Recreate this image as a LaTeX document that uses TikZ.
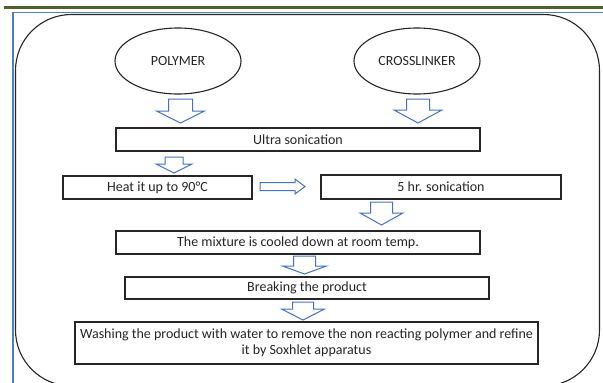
\documentclass[tikz,border=0pt]{standalone}
\usepackage{fontspec}
\setmainfont{Carlito}
\usetikzlibrary{shapes.geometric}
\definecolor{bargreen}{HTML}{4F6228}
\definecolor{frameblue}{HTML}{4F81BD}
\definecolor{arrowblue}{HTML}{4472C4}
\definecolor{txt}{HTML}{262626}
\tikzset{
  stepbox/.style={draw=black!85, line width=1.1pt, rectangle, inner sep=0pt, text=txt, font=\fontsize{14}{16}\selectfont, align=center},
  oval/.style={draw=black!85, line width=1.1pt, ellipse, inner sep=0pt, minimum width=126pt, minimum height=66pt, text=txt, font=\fontsize{14}{16}\selectfont},
  barrow/.style={draw=arrowblue, line width=1pt, fill=white, line join=miter}
}
% block arrow down: cx, top, tip, headbase, shafthalf, headhalf
\newcommand\bdarrow[6]{%
  \draw[barrow] (#1-#5,#2) -- (#1+#5,#2) -- (#1+#5,#4) -- (#1+#6,#4) -- (#1,#3) -- (#1-#6,#4) -- (#1-#5,#4) -- cycle;}
\begin{document}
\begin{tikzpicture}[x=1pt,y=-1pt]
\useasboundingbox (0,0) rectangle (603,383);
\fill[white] (0,0) rectangle (603,383);
% top bars and frame
\fill[bargreen] (4,5.5) rectangle (603,9);
\draw[frameblue, line width=1.3pt] (13,384) -- (13,12.5) -- (603,12.5);
\draw[black!85, line width=1.1pt, rounded corners=56pt] (15.5,14.5) rectangle (599.5,386);
% nodes
\node[oval] (poly) at (178,61) {POLYMER};
\node[oval] (cross) at (417,61) {CROSSLINKER};
\node[stepbox, minimum width=364pt, minimum height=23pt] (ultra) at (298,139.5) {Ultra sonication};
\node[stepbox, minimum width=189pt, minimum height=23pt] (heat) at (157.5,187.5) {Heat it up to 90°C};
\node[stepbox, minimum width=240pt, minimum height=24pt] (five) at (441,187) {5 hr. sonication};
\node[stepbox, minimum width=364pt, minimum height=23pt] (mix) at (298,242.5) {The mixture is cooled down at room temp.};
\node[stepbox, minimum width=364pt, minimum height=22pt] (brk) at (307,288) {Breaking the product};
\node[stepbox, minimum width=463pt, minimum height=42pt] (wash) at (306.5,343) {Washing the product with water to remove the non reacting polymer and refine\\it by Soxhlet apparatus};
% block arrows
\bdarrow{180.5}{99}{123}{111}{12}{24}
\bdarrow{418}{99}{123}{110}{11.5}{24}
\bdarrow{174}{157}{173}{164}{9}{18}
\bdarrow{381.5}{202}{225}{213}{11}{21.5}
\bdarrow{304.5}{256}{274}{266}{11}{22}
\bdarrow{303}{302}{320}{309}{10.5}{21.5}
% horizontal block arrow heat -> five
\draw[barrow] (260,182.5) -- (295,182.5) -- (295,179) -- (305,186.5) -- (295,194) -- (295,190.5) -- (260,190.5) -- cycle;
\end{tikzpicture}
\end{document}
